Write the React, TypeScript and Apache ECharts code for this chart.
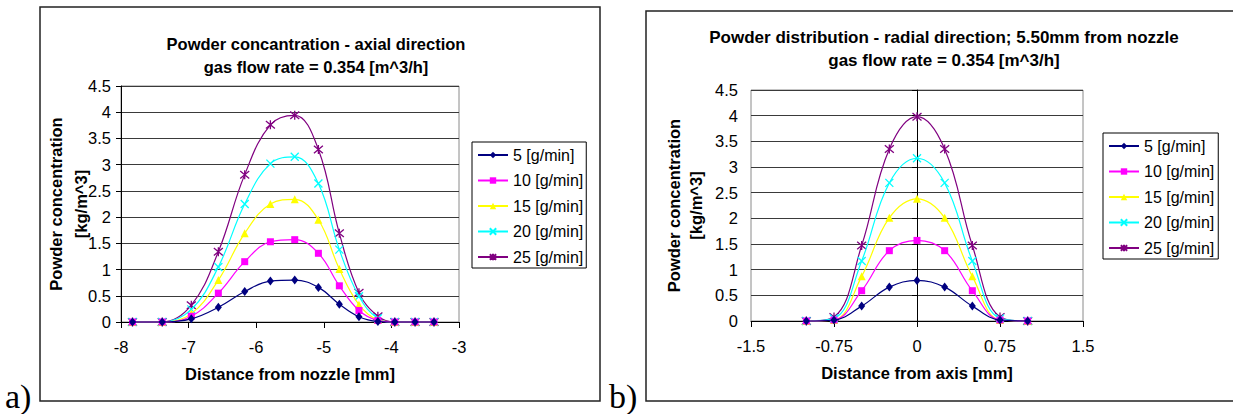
import React, { useEffect, useRef } from "react";
import * as echarts from "echarts";

// ---- data ----
const seriesNames = ["5 [g/min]", "10 [g/min]", "15 [g/min]", "20 [g/min]", "25 [g/min]"];

// (a) axial direction
const xAxial = [-7.83, -7.39, -6.96, -6.56, -6.17, -5.79, -5.43, -5.08, -4.77, -4.48, -4.2, -3.95, -3.65, -3.37];
const axial5 = [0, 0, 0.06, 0.28, 0.58, 0.78, 0.8, 0.66, 0.34, 0.1, 0.01, 0, 0, 0];
const axial10 = [0, 0, 0.11, 0.55, 1.15, 1.53, 1.57, 1.31, 0.69, 0.22, 0.03, 0, 0, 0];
const axial15 = [0, 0, 0.16, 0.8, 1.69, 2.25, 2.34, 1.95, 1.01, 0.33, 0.04, 0, 0, 0];
const axial20 = [0, 0, 0.24, 1.05, 2.25, 3.02, 3.15, 2.64, 1.38, 0.49, 0.07, 0, 0, 0];
const axial25 = [0, 0, 0.32, 1.34, 2.81, 3.76, 3.94, 3.29, 1.69, 0.56, 0.11, 0, 0, 0];

// (b) radial direction
const xRadial = [-1.0, -0.75, -0.5, -0.25, 0, 0.25, 0.5, 0.75, 1.0];
const radial5 = [0, 0.02, 0.29, 0.66, 0.79, 0.66, 0.29, 0.02, 0];
const radial10 = [0, 0.02, 0.59, 1.37, 1.57, 1.37, 0.59, 0.02, 0];
const radial15 = [0, 0.02, 0.87, 2.01, 2.38, 2.01, 0.87, 0.02, 0];
const radial20 = [0, 0.05, 1.17, 2.69, 3.17, 2.69, 1.17, 0.05, 0];
const radial25 = [0, 0.08, 1.47, 3.35, 3.98, 3.35, 1.47, 0.08, 0];

const titleA = "Powder concantration - axial direction\ngas flow rate = 0.354 [m^3/h]";
const titleB = "Powder distribution - radial direction; 5.50mm from nozzle\ngas flow rate = 0.354 [m^3/h]";
const xNameA = "Distance from nozzle [mm]";
const xNameB = "Distance from axis [mm]";
const yName = "Powder concentration\n[kg/m^3]";

// ---- styles ----
const FONT = "'Liberation Sans', Arial, sans-serif";
const colors = ["#000080", "#FF00FF", "#FFFF00", "#00FFFF", "#800080"];
const symbols = [
  "diamond",
  "rect",
  "triangle",
  "path://M0,0L10,10M10,0L0,10",
  "path://M0,0L10,10M10,0L0,10M5,-1L5,11",
];
const symbolSizes = [[7, 9], 7, 8, 8, 9];

const axialSets = [axial5, axial10, axial15, axial20, axial25];
const radialSets = [radial5, radial10, radial15, radial20, radial25];

function makeSeries(xs: number[], sets: number[][], idx: number) {
  return sets.map((ys, i) => ({
    name: seriesNames[i],
    type: "line",
    xAxisIndex: idx,
    yAxisIndex: idx,
    smooth: 0.4,
    clip: false,
    data: xs.map((x, j) => [x, ys[j]]),
    symbol: symbols[i],
    symbolSize: symbolSizes[i],
    showSymbol: true,
    lineStyle: { color: colors[i], width: 1.2 },
    itemStyle: {
      color: colors[i],
      borderColor: colors[i],
      borderWidth: i >= 3 ? 1.3 : 0,
    },
    z: 10 - i,
  }));
}

function xAxisCfg(idx: number, min: number, max: number, interval: number, name: string) {
  return {
    type: "value",
    gridIndex: idx,
    min,
    max,
    interval,
    name,
    nameLocation: "middle",
    nameGap: 43,
    nameMoveOverlap: false,
    nameTextStyle: { fontFamily: FONT, fontSize: 16.5, fontWeight: "bold", color: "#000" },
    axisLine: { show: true, onZero: false, lineStyle: { color: "#000", width: 1 } },
    axisTick: { show: true, length: 6, lineStyle: { color: "#000" } },
    axisLabel: { fontFamily: FONT, fontSize: 16.5, color: "#000", margin: 16 },
    splitLine: { show: false },
  };
}

function yAxisCfg(idx: number, nameGap: number, lineHeight: number, labelMargin: number) {
  return {
    type: "value",
    gridIndex: idx,
    min: 0,
    max: 4.5,
    interval: 0.5,
    name: yName,
    nameLocation: "middle",
    nameGap,
    nameMoveOverlap: false,
    nameTextStyle: { fontFamily: FONT, fontSize: 16.5, fontWeight: "bold", color: "#000", lineHeight },
    axisLine: { show: true, lineStyle: { color: "#000", width: 1 } },
    axisTick: { show: true, length: 5, lineStyle: { color: "#000" } },
    axisLabel: { fontFamily: FONT, fontSize: 16.5, color: "#000", margin: labelMargin },
    splitLine: { show: true, lineStyle: { color: "#3a3a3a", width: 1 } },
  };
}

function legendCfg(left: number, top: number, padRight: number) {
  return {
    orient: "vertical",
    left,
    top,
    data: seriesNames,
    itemWidth: 30,
    itemHeight: 8,
    itemGap: 7.5,
    padding: [4, padRight, 2, 5],
    borderColor: "#000",
    borderWidth: 1,
    backgroundColor: "#fff",
    selectedMode: false,
    textStyle: { fontFamily: FONT, fontSize: 16, color: "#000", lineHeight: 18 },
  };
}

export default function App() {
  const ref = useRef<HTMLDivElement>(null);
  useEffect(() => {
    document.body.style.margin = "0";
    if (!ref.current) return;
    const chart = echarts.init(ref.current, null, { renderer: "svg" });
    chart.setOption({
      animation: false,
      backgroundColor: "#fff",
      title: [
        {
          text: titleA,
          left: 316,
          top: 32,
          textAlign: "center",
          textStyle: { fontFamily: FONT, fontSize: 16.5, fontWeight: "bold", color: "#000", lineHeight: 23 },
          padding: 0,
        },
        {
          text: titleB,
          left: 944,
          top: 26,
          textAlign: "center",
          textStyle: { fontFamily: FONT, fontSize: 17, fontWeight: "bold", color: "#000", lineHeight: 23 },
          padding: 0,
        },
      ],
      grid: [
        { left: 121, top: 86, width: 338, height: 236, show: true, borderColor: "#8a8a8a", borderWidth: 1, backgroundColor: "#fff", containLabel: false },
        { left: 751, top: 90, width: 332, height: 231, show: true, borderColor: "#8a8a8a", borderWidth: 1, backgroundColor: "#fff", containLabel: false },
      ],
      xAxis: [xAxisCfg(0, -8, -3, 1, xNameA), xAxisCfg(1, -1.5, 1.5, 0.75, xNameB)],
      yAxis: [yAxisCfg(0, 28, 25, 10), yAxisCfg(1, 44, 22, 13)],
      legend: [legendCfg(472, 142, 3), legendCfg(1103, 133, 4)],
      series: [...makeSeries(xAxial, axialSets, 0), ...makeSeries(xRadial, radialSets, 1)],
      graphic: [
        { type: "rect", silent: true, shape: { x: 40, y: 7, width: 560, height: 394 }, style: { fill: "none", stroke: "#222", lineWidth: 1.5 } },
        { type: "rect", silent: true, shape: { x: 646, y: 11, width: 620, height: 390 }, style: { fill: "none", stroke: "#222", lineWidth: 1.5 } },
        { type: "text", x: 5, y: 396, style: { text: "a)", font: "34px 'Liberation Serif', 'Times New Roman', serif", fill: "#000", verticalAlign: "middle" } },
        { type: "text", x: 609, y: 396, style: { text: "b)", font: "34px 'Liberation Serif', 'Times New Roman', serif", fill: "#000", verticalAlign: "middle" } },
      ],
    });
    return () => chart.dispose();
  }, []);
  return <div ref={ref} style={{ width: 1233, height: 414 }} />;
}
